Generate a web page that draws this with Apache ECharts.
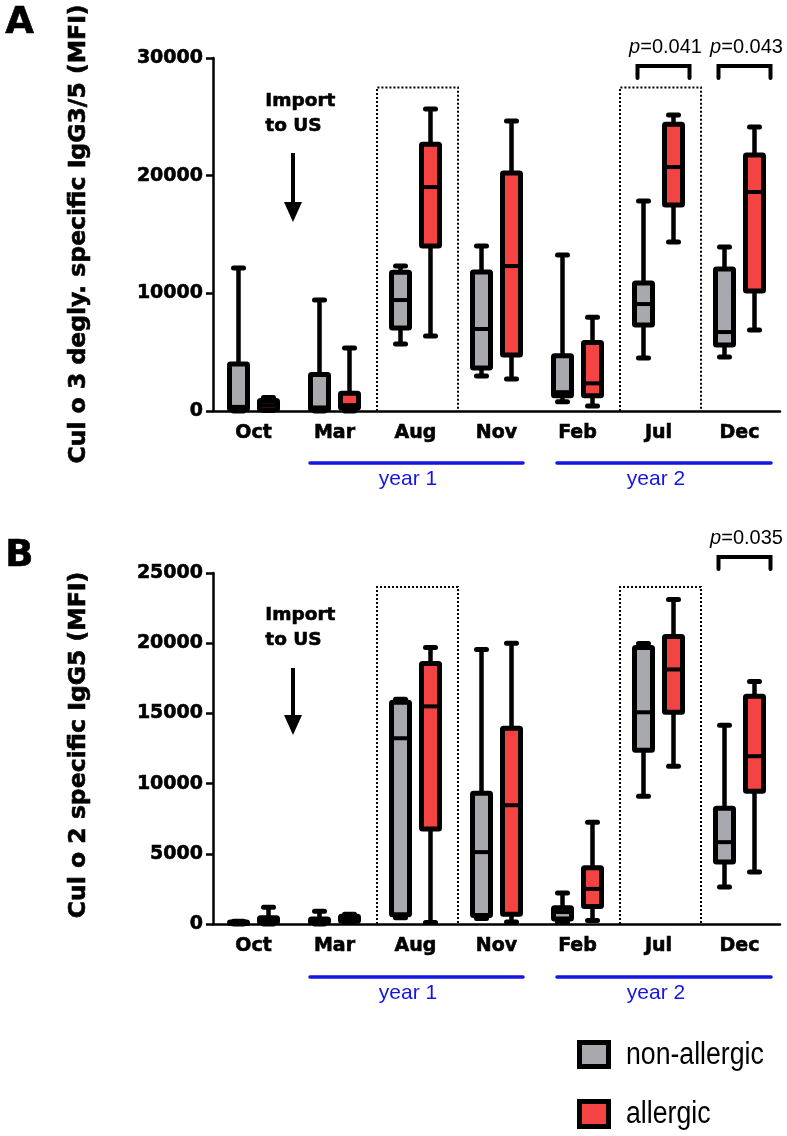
<!DOCTYPE html>
<html>
<head>
<meta charset="utf-8">
<script src="https://cdn.jsdelivr.net/npm/echarts@6/dist/echarts.min.js"></script>
<style>
html,body{margin:0;padding:0;background:#fff;}
#chart{width:787px;height:1136px;}
</style>
</head>
<body>
<div id="chart"></div>
<script>
// ---------- DATA ----------
const categories = ['Oct', 'Mar', 'Aug', 'Nov', 'Feb', 'Jul', 'Dec'];
// each entry: [min, Q1, median, Q3, max]
const aNonAllergic = [
  [0, 150, 350, 4000, 12150],
  [0, 100, 300, 3100, 9430],
  [5690, 7050, 9430, 11800, 12320],
  [2970, 3650, 6970, 11810, 14020],
  [790, 1300, 1600, 4700, 13250],
  [4500, 7310, 9090, 10880, 17840],
  [4590, 5610, 6710, 12060, 13930]
];
const aAllergic = [
  [50, 100, 500, 900, 1150],
  [0, 250, 500, 1500, 5360],
  [6370, 14020, 19030, 22680, 25660],
  [2720, 4760, 12320, 20220, 24640],
  [420, 1290, 2350, 5820, 7960],
  [14360, 17500, 20730, 24380, 25150],
  [6880, 10200, 18610, 21750, 24130]
];
const bNonAllergic = [
  [0, 30, 80, 150, 200],
  [0, 100, 200, 350, 900],
  [450, 650, 13230, 15790, 16000],
  [400, 600, 5120, 9320, 19560],
  [100, 350, 850, 1150, 2200],
  [9100, 12380, 15080, 19700, 19980],
  [2630, 4410, 5830, 8250, 14150]
];
const bAllergic = [
  [0, 100, 250, 450, 1200],
  [100, 200, 350, 550, 700],
  [100, 6760, 15500, 18560, 19700],
  [150, 700, 8460, 13940, 19990],
  [250, 1250, 2500, 4000, 7250],
  [11240, 15080, 18130, 20480, 23110],
  [3700, 9460, 11950, 16220, 17280]
];
const aYTicks = [0, 10000, 20000, 30000];
const bYTicks = [0, 5000, 10000, 15000, 20000, 25000];
const highlightCats = ['Aug', 'Jul'];
const aSignificance = [['Jul', '0.041'], ['Dec', '0.043']];
const bSignificance = [['Dec', '0.035']];
const aTitle = 'Cul o 3 degly. specific IgG3/5 (MFI)';
const bTitle = 'Cul o 2 specific IgG5 (MFI)';
const seriesNames = ['non-allergic', 'allergic'];
const yearLabels = ['year 1', 'year 2'];

// ---------- STYLE ----------
const GRAY = '#a8a9ae';
const RED = '#f44343';
const BLUE = '#1414e6';
const BOLD = 'DejaVu Sans';
const HEAVY_LABEL = { textBorderColor: '#000', textBorderWidth: 0.6 };
const HEAVY_TEXT = { stroke: '#000', lineWidth: 0.6 };

function toItems(arr) { return arr.map((v, i) => [i].concat(v)); }

function boxRender(offset, fill) {
  return function (params, api) {
    const cat = api.value(0);
    const cx = api.coord([cat, 0])[0] + offset;
    const y = [1, 2, 3, 4, 5].map(i => api.coord([cat, api.value(i)])[1]);
    const bw = 18, cap = 5;
    const ln = (x1, y1, x2, y2, w, capStyle) => ({
      type: 'line', shape: { x1, y1, x2, y2 },
      style: { stroke: '#000', lineWidth: w, lineCap: capStyle || 'butt' }
    });
    return {
      type: 'group',
      children: [
        ln(cx, y[4], cx, y[3], 4.5),
        ln(cx, y[1], cx, y[0], 4.5),
        ln(cx - cap, y[4], cx + cap, y[4], 5, 'round'),
        ln(cx - cap, y[0], cx + cap, y[0], 5, 'round'),
        { type: 'rect', shape: { x: cx - bw / 2, y: y[3], width: bw, height: Math.max(y[1] - y[3], 0.5), r: 1 },
          style: { fill: fill, stroke: '#000', lineWidth: 5, lineJoin: 'round' } },
        ln(cx - bw / 2, y[2], cx + bw / 2, y[2], 4)
      ]
    };
  };
}

function highlightRender(topVal) {
  return function (params, api) {
    const cat = api.value(0);
    const b = api.coord([cat, 0]);
    const t = api.coord([cat, topVal]);
    const bw = api.size([1, 0])[0];
    const l = b[0] - bw / 2 + 2, r = b[0] + bw / 2 + 2;
    return {
      type: 'polyline',
      shape: { points: [[l, b[1]], [l, t[1]], [r, t[1]], [r, b[1]]] },
      style: { stroke: '#000', fill: null, lineWidth: 2, lineDash: [2, 2] }
    };
  };
}

function sigRender(sigs, topPx) {
  return function (params, api) {
    const cat = api.value(0);
    const c = api.coord([cat, 0])[0] + 5;
    const hw = 26;
    return {
      type: 'group',
      children: [
        { type: 'polyline', shape: { points: [[c - hw, topPx + 12], [c - hw, topPx], [c + hw, topPx], [c + hw, topPx + 12]] },
          style: { stroke: '#000', fill: null, lineWidth: 4, lineJoin: 'miter', lineCap: 'round' } },
        { type: 'text', x: c + 2, y: topPx - 19,
          style: { text: '{i|p}=' + sigs[params.dataIndex][1], align: 'center', verticalAlign: 'middle',
            fontFamily: 'Liberation Sans', fontSize: 20, fill: '#000',
            rich: { i: { fontStyle: 'italic', fontFamily: 'Liberation Sans', fontSize: 20 } } } }
      ]
    };
  };
}

const grids = [
  { left: 213, top: 58, width: 567, height: 353, outerBoundsMode: 'none' },
  { left: 213, top: 573, width: 567, height: 351, outerBoundsMode: 'none' }
];

function xAxis(gi) {
  return {
    type: 'category', gridIndex: gi, data: categories, boundaryGap: true,
    axisLine: { lineStyle: { color: '#000', width: 2.5 } },
    axisTick: { alignWithLabel: true, length: 7, lineStyle: { color: '#000', width: 2.5 } },
    axisLabel: Object.assign({ color: '#000', fontFamily: BOLD, fontWeight: 'bold', fontSize: 19, margin: 13 }, HEAVY_LABEL),
    splitLine: { show: false }
  };
}
function yAxis(gi, ticks) {
  return {
    type: 'value', gridIndex: gi, min: ticks[0], max: ticks[ticks.length - 1],
    interval: ticks[1] - ticks[0],
    axisLine: { show: true, lineStyle: { color: '#000', width: 2.5 } },
    axisTick: { show: true, length: 7, lineStyle: { color: '#000', width: 2.5 } },
    axisLabel: Object.assign({ color: '#000', fontFamily: BOLD, fontWeight: 'bold', fontSize: 19, margin: 10,
      formatter: v => String(v) }, HEAVY_LABEL),
    splitLine: { show: false }
  };
}

const series = [
  { type: 'custom', xAxisIndex: 0, yAxisIndex: 0, renderItem: highlightRender(27500),
    data: highlightCats.map(c => [categories.indexOf(c), 0]), encode: { x: 0, y: 1 }, silent: true, z: 1 },
  { type: 'custom', xAxisIndex: 1, yAxisIndex: 1, renderItem: highlightRender(24000),
    data: highlightCats.map(c => [categories.indexOf(c), 0]), encode: { x: 0, y: 1 }, silent: true, z: 1 },
  { name: seriesNames[0], type: 'custom', xAxisIndex: 0, yAxisIndex: 0, renderItem: boxRender(-15, GRAY),
    data: toItems(aNonAllergic), encode: { x: 0, y: [1, 2, 3, 4, 5] }, z: 3 },
  { name: seriesNames[1], type: 'custom', xAxisIndex: 0, yAxisIndex: 0, renderItem: boxRender(15, RED),
    data: toItems(aAllergic), encode: { x: 0, y: [1, 2, 3, 4, 5] }, z: 3 },
  { name: seriesNames[0], type: 'custom', xAxisIndex: 1, yAxisIndex: 1, renderItem: boxRender(-15, GRAY),
    data: toItems(bNonAllergic), encode: { x: 0, y: [1, 2, 3, 4, 5] }, z: 3 },
  { name: seriesNames[1], type: 'custom', xAxisIndex: 1, yAxisIndex: 1, renderItem: boxRender(15, RED),
    data: toItems(bAllergic), encode: { x: 0, y: [1, 2, 3, 4, 5] }, z: 3 },
  { type: 'custom', xAxisIndex: 0, yAxisIndex: 0, renderItem: sigRender(aSignificance, 66),
    data: aSignificance.map(s => [categories.indexOf(s[0]), 0]), encode: { x: 0, y: 1 }, silent: true, z: 4 },
  { type: 'custom', xAxisIndex: 1, yAxisIndex: 1, renderItem: sigRender(bSignificance, 557),
    data: bSignificance.map(s => [categories.indexOf(s[0]), 0]), encode: { x: 0, y: 1 }, silent: true, z: 4 }
];

function importNote(top) {
  return [
    { type: 'text', left: 265, top: top, style: Object.assign({ text: 'Import\nto US', fontFamily: BOLD, fontWeight: 'bold', fontSize: 18.5, lineHeight: 25, fill: '#000' }, HEAVY_TEXT) }
  ];
}
function arrow(y1, y2) {
  return [
    { type: 'line', shape: { x1: 293, y1: y1, x2: 293, y2: y2 - 16 }, style: { stroke: '#000', lineWidth: 4 } },
    { type: 'polygon', shape: { points: [[284, y2 - 20], [302, y2 - 20], [293, y2]] }, style: { fill: '#000' } }
  ];
}
function yearBar(y) {
  return [
    { type: 'line', shape: { x1: 310, y1: y, x2: 523, y2: y }, style: { stroke: BLUE, lineWidth: 3.5, lineCap: 'round' } },
    { type: 'line', shape: { x1: 557, y1: y, x2: 771, y2: y }, style: { stroke: BLUE, lineWidth: 3.5, lineCap: 'round' } },
    { type: 'text', x: 408, y: y + 16, style: { text: yearLabels[0], align: 'center', verticalAlign: 'middle', fontFamily: 'Liberation Sans', fontSize: 21, fill: BLUE } },
    { type: 'text', x: 656, y: y + 16, style: { text: yearLabels[1], align: 'center', verticalAlign: 'middle', fontFamily: 'Liberation Sans', fontSize: 21, fill: BLUE } }
  ];
}
function vTitle(text, cx, cy) {
  return { type: 'text', x: cx, y: cy, rotation: Math.PI / 2,
    style: Object.assign({ text: text, align: 'center', verticalAlign: 'middle', fontFamily: BOLD, fontWeight: 'bold', fontSize: 23.5, fill: '#000' }, HEAVY_TEXT) };
}

const graphic = [].concat(
  [{ type: 'text', left: 5, top: 5, style: Object.assign({ text: 'A', fontFamily: BOLD, fontWeight: 'bold', fontSize: 37, fill: '#000' }, HEAVY_TEXT) },
   { type: 'text', left: 5, top: 538, style: Object.assign({ text: 'B', fontFamily: BOLD, fontWeight: 'bold', fontSize: 37, fill: '#000' }, HEAVY_TEXT) },
   vTitle(aTitle, 79, 234),
   vTitle(bTitle, 79, 745)],
  importNote(89), arrow(153, 222),
  importNote(603), arrow(668, 735),
  yearBar(463), yearBar(977),
  [
    { type: 'rect', shape: { x: 579.5, y: 1042.5, width: 29, height: 24 }, style: { fill: GRAY, stroke: '#000', lineWidth: 5 } },
    { type: 'text', x: 626, y: 1055, scaleX: 0.86, style: { text: seriesNames[0], verticalAlign: 'middle', fontFamily: 'Liberation Sans', fontSize: 31, fill: '#000' } },
    { type: 'rect', shape: { x: 579.5, y: 1101.5, width: 29, height: 25 }, style: { fill: RED, stroke: '#000', lineWidth: 5 } },
    { type: 'text', x: 626, y: 1114, scaleX: 0.86, style: { text: seriesNames[1], verticalAlign: 'middle', fontFamily: 'Liberation Sans', fontSize: 31, fill: '#000' } }
  ]
);

const chart = echarts.init(document.getElementById('chart'), null, { renderer: 'canvas' });
chart.setOption({
  animation: false,
  backgroundColor: '#fff',
  grid: grids,
  xAxis: [xAxis(0), xAxis(1)],
  yAxis: [yAxis(0, aYTicks), yAxis(1, bYTicks)],
  series: series,
  graphic: graphic
});
</script>
</body>
</html>
